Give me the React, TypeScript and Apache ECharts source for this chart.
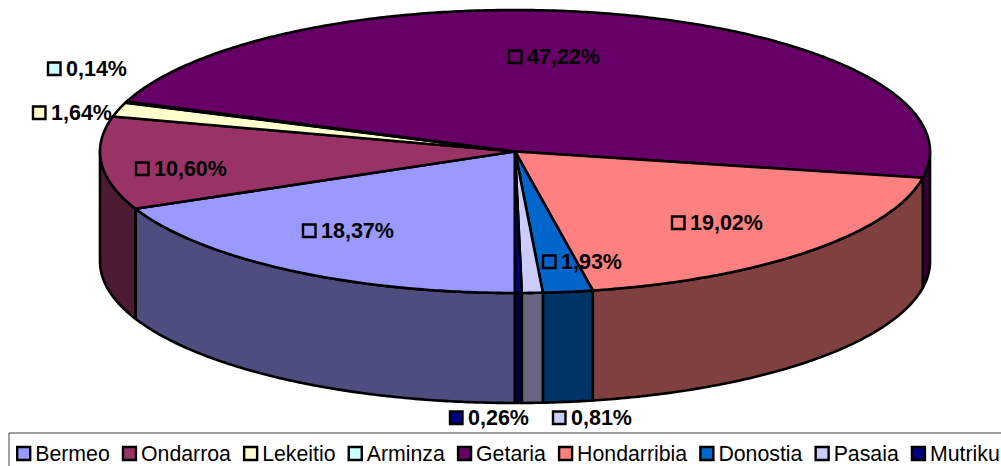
import React, { useEffect, useRef } from "react";
import * as echarts from "echarts";

const towns = ["Bermeo", "Ondarroa", "Lekeitio", "Arminza", "Getaria", "Hondarribia", "Donostia", "Pasaia", "Mutriku"];
const shares = [18.37, 10.6, 1.64, 0.14, 47.22, 19.02, 1.93, 0.81, 0.26];
const topColors = ["#9999FF", "#993366", "#FFFFCC", "#CCFFFF", "#660066", "#FF8080", "#0066CC", "#CCCCFF", "#000080"];
const wallColors = ["#4D4D80", "#4D1A33", "#808066", "#668080", "#330033", "#804040", "#003366", "#666680", "#000040"];

// layout of the pie and of the label anchors (marker left edge, centre y)
const CX = 515, CY = 151.5, RX = 415, RY = 141.5, DEPTH = 110;
const labelAnchors: [number, number][] = [
  [303, 231], [136, 169], [33, 113], [48, 69], [509, 57], [672, 223], [543, 262], [553, 418], [450, 418],
];
const FONT = "'Liberation Sans', Arial, sans-serif";

const total = shares.reduce((a, b) => a + b, 0);
const starts: number[] = [];
shares.reduce((acc, v, i) => { starts[i] = (acc / total) * 360; return acc + v; }, 0);
const rim = (deg: number, dy = 0): number[] => {
  const t = (deg * Math.PI) / 180;
  return [CX - Math.sin(t) * RX, CY + Math.cos(t) * RY + dy];
};
const arc = (a: number, b: number, dy = 0): number[][] => {
  const n = Math.max(2, Math.ceil((b - a) / 0.5));
  const pts: number[][] = [];
  for (let i = 0; i <= n; i++) pts.push(rim(a + ((b - a) * i) / n, dy));
  return pts;
};
const stroke = { stroke: "#000", lineWidth: 2.6, lineJoin: "round" };

const wallsFor = (a: number, b: number, fill: string) => {
  const out: any[] = [];
  [[0, 90], [270, 360]].forEach(([lo, hi]) => {
    const s = Math.max(a, lo), e = Math.min(b, hi);
    if (e > s) {
      out.push({
        type: "polygon",
        shape: { points: [...arc(s, e), ...arc(s, e, DEPTH).reverse()] },
        style: { fill, ...stroke },
      });
    }
  });
  return out;
};

function App() {
  const ref = useRef<HTMLDivElement>(null);
  useEffect(() => {
    const chart = echarts.init(ref.current!, null, { renderer: "svg" });
    const sliceSeries = towns.map((name, i) => {
      const a = starts[i], b = a + (shares[i] / total) * 360;
      return {
        type: "custom",
        name,
        coordinateSystem: "none",
        silent: true,
        itemStyle: { color: topColors[i] },
        data: [shares[i]],
        renderItem: () => ({
          type: "group",
          children: [
            ...wallsFor(a, b, wallColors[i]),
            {
              type: "polygon",
              shape: { points: [[CX, CY], ...arc(a, b)] },
              style: { fill: topColors[i], ...stroke },
            },
          ],
        }),
      };
    });
    const labelSeries = {
      type: "custom",
      name: "labels",
      coordinateSystem: "none",
      silent: true,
      z: 5,
      data: shares,
      renderItem: (params: any) => {
        const i = params.dataIndex;
        const [x, y] = labelAnchors[i];
        return {
          type: "group",
          children: [
            {
              type: "rect",
              shape: { x, y: y - 6.5, width: 12.5, height: 12.5 },
              style: { fill: topColors[i], stroke: "#000", lineWidth: 2.4 },
            },
            {
              type: "text",
              style: {
                x: x + 18,
                y: y,
                text: shares[i].toFixed(2).replace(".", ",") + "%",
                fontFamily: FONT,
                fontSize: 21.5,
                fontWeight: "bold",
                fill: "#000",
                align: "left",
                verticalAlign: "middle",
              },
            },
          ],
        };
      },
    };
    chart.setOption({
      animation: false,
      tooltip: { show: false },
      legend: {
        show: true,
        left: 9,
        top: 433,
        width: 1300,
        selectedMode: false,
        orient: "horizontal",
        icon: "rect",
        data: towns,
        itemWidth: 13,
        itemHeight: 13,
        itemGap: 12,
        padding: [10, 30, 30, 7],
        borderColor: "#404040",
        borderWidth: 1,
        itemStyle: { borderColor: "#000", borderWidth: 2.4 },
        textStyle: { fontFamily: FONT, fontSize: 21.3, color: "#000" },
      },
      series: [...sliceSeries, labelSeries],
    });
    return () => chart.dispose();
  }, []);
  return <div ref={ref} style={{ position: "absolute", left: 0, top: 0, width: 1001, height: 466 }} />;
}

export default App;
